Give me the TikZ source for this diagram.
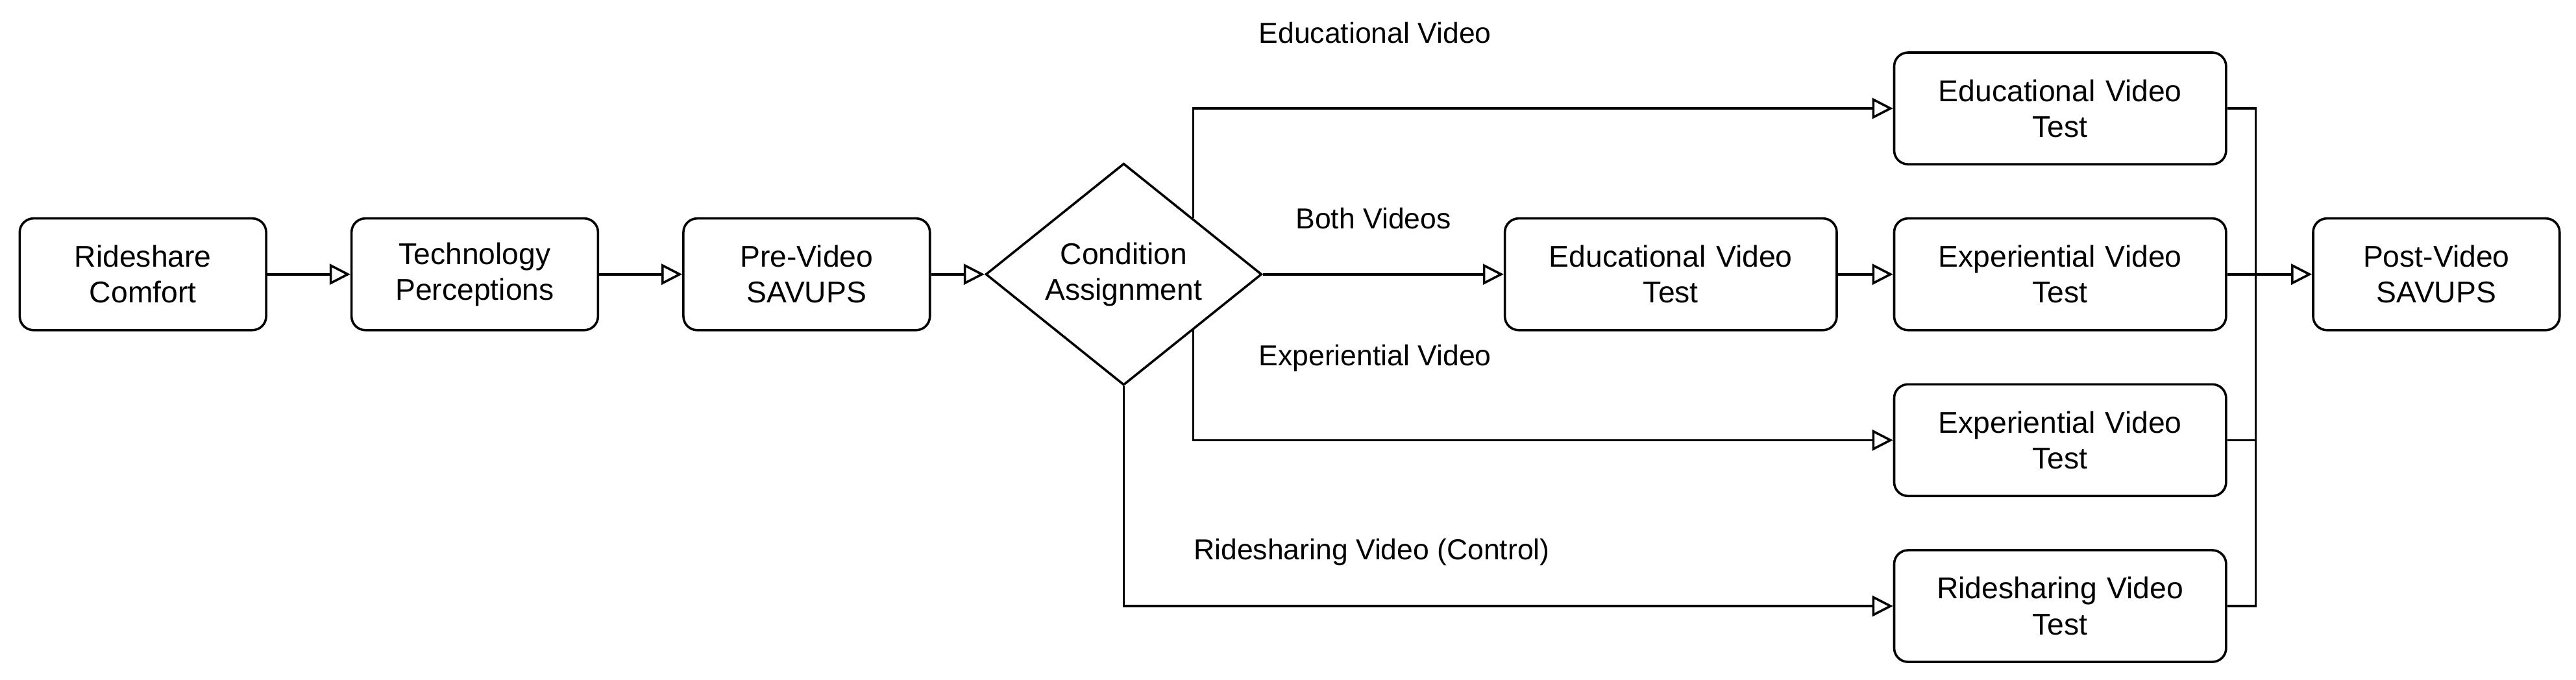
\documentclass[tikz,border=0pt]{standalone}
\usepackage{fontspec}
\setmainfont{Liberation Sans}
\usetikzlibrary{shapes.geometric, arrows.meta, positioning, calc}

\begin{document}
\begin{tikzpicture}[
    x=0.025cm, y=-0.025cm,
    % Define styles
    box/.style={rectangle, draw=black, line width=1pt, minimum width=3.75cm, minimum height=1.7cm, rounded corners=6pt, text width=3.5cm, align=center, font=\fontsize{13}{15.5}\selectfont},
    widebox/.style={box, minimum width=5.05cm, text width=4.8cm},
    decision/.style={diamond, draw=black, line width=1pt, minimum width=4.2cm, minimum height=3.375cm, inner sep=0pt, align=center, font=\fontsize{13}{15.5}\selectfont},
    arrow/.style={-{Triangle[open, length=9pt, width=9pt]}, line width=1pt},
    line/.style={line width=1pt},
    label/.style={font=\fontsize{12.5}{15}\selectfont},
    ]
    \useasboundingbox (0,0) rectangle (1568,414);

    % Main nodes
    \node[box] (comfort) at (87,167) {Rideshare\\Comfort};
    \node[box] (tech) at (289,167) {Technology\\Perceptions};
    \node[box] (pre) at (491,167) {Pre-Video\\SAVUPS};
    \node[decision] (cond) at (684,167) {Condition\\Assignment};

    % Test nodes
    \node[widebox] (edu) at (1254,66) {Educational Video\\Test};
    \node[widebox] (bothedu) at (1017,167) {Educational Video\\Test};
    \node[widebox] (bothexp) at (1254,167) {Experiential Video\\Test};
    \node[widebox] (exp) at (1254,268) {Experiential Video\\Test};
    \node[widebox] (ride) at (1254,369) {Ridesharing Video\\Test};
    \node[box] (post) at (1483,167) {Post-Video\\SAVUPS};

    % Bend points
    \coordinate (join) at (1373,167);
    \coordinate (jtop) at (1373,66);
    \coordinate (jbot) at (1373,369);

    % Labels
    \node[label] at (837,20) {Educational Video};
    \node[label] at (836,133) {Both Videos};
    \node[label] at (837,218) {Experiential Video};
    \node[label] at (835,336) {Ridesharing Video (Control)};

    % Arrows
    \draw[arrow] (comfort) -- (tech);
    \draw[arrow] (tech) -- (pre);
    \draw[arrow] (pre) -- (cond);
    \draw[arrow] (cond.north east) |- (edu.west);
    \draw[arrow] (cond) -- (bothedu);
    \draw[arrow] (bothedu) -- (bothexp);
    \draw[arrow] (cond.south east) |- (exp.west);
    \draw[arrow] (cond.south) |- (ride.west);

    % Merge lines
    \draw[line] (edu.east) -- (jtop) -- (jbot) -- (ride.east);
    \draw[line] (exp.east) -- (exp.east -| join);
    \draw[line] (bothexp.east) -- (join);
    \draw[arrow] (join) -- (post);

\end{tikzpicture}
\end{document}
